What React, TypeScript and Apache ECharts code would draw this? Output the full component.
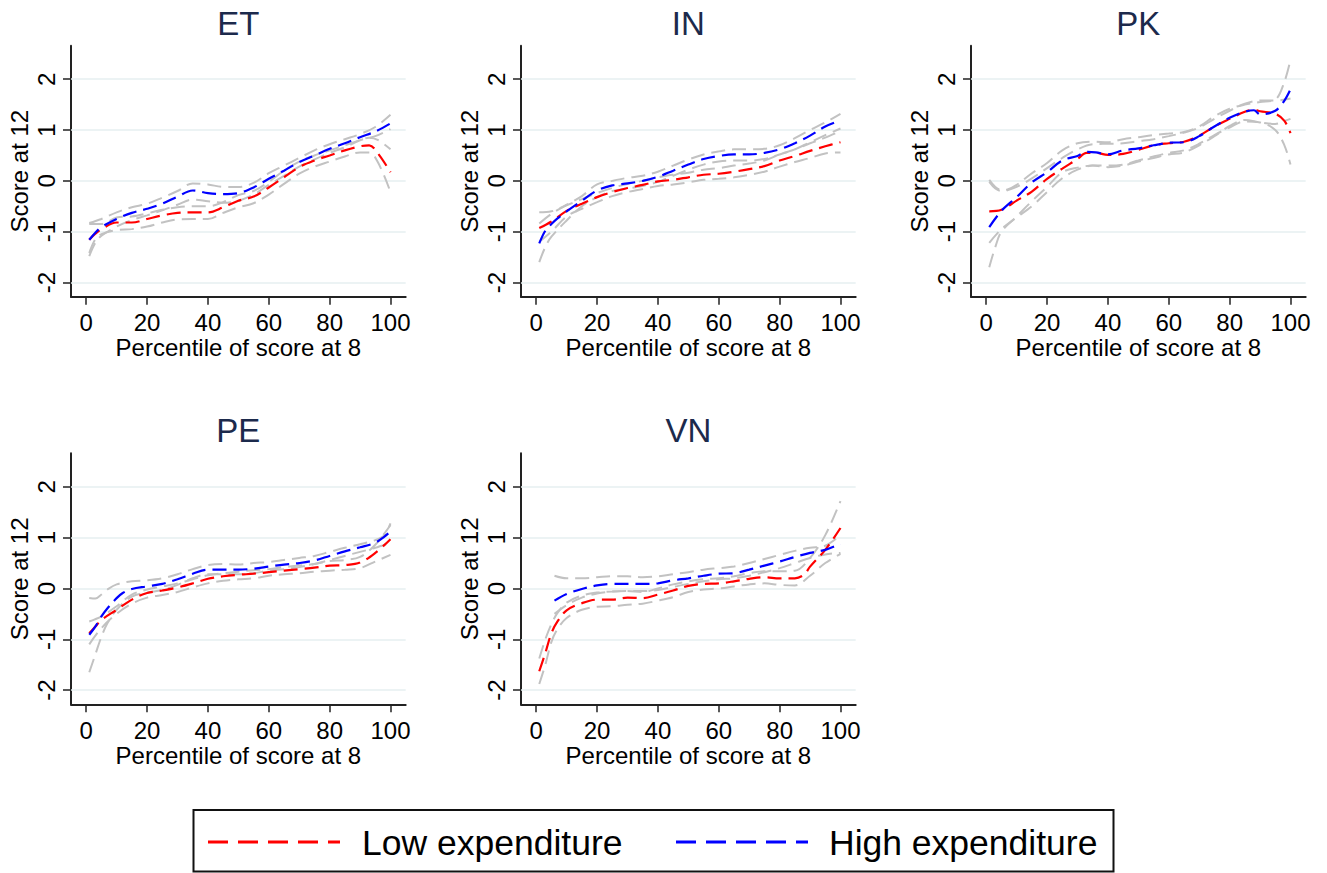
import React, { useEffect, useRef } from "react";
import * as echarts from "echarts";

// ---------- data ----------
const X_TICKS = [0, 20, 40, 60, 80, 100];
const Y_TICKS = [-2, -1, 0, 1, 2];
const PANEL_NAMES = ["ET", "IN", "PK", "PE", "VN"];
const SERIES_NAMES = ["Low expenditure", "High expenditure"];
const X_TITLE = "Percentile of score at 8";
const Y_TITLE = "Score at 12";

const ET_LOW = [[1,-1.16],[3,-1.04],[5,-0.95],[10,-0.82],[15,-0.82],[20,-0.75],[25,-0.68],[30,-0.63],[35,-0.62],[40,-0.62],[45,-0.52],[50,-0.39],[55,-0.31],[60,-0.13],[65,0.07],[70,0.27],[75,0.4],[80,0.5],[85,0.6],[90,0.68],[93,0.7],[96,0.53],[100,0.17]];
const ET_HIGH = [[1,-1.16],[3,-1.02],[5,-0.91],[10,-0.75],[15,-0.63],[20,-0.55],[25,-0.45],[30,-0.31],[35,-0.19],[40,-0.24],[45,-0.26],[50,-0.24],[55,-0.13],[60,0.04],[65,0.2],[70,0.37],[75,0.5],[80,0.63],[85,0.74],[90,0.86],[95,0.97],[100,1.13]];
const ET_HIGH_UP = [[1,-0.83],[5,-0.75],[10,-0.62],[15,-0.52],[20,-0.45],[25,-0.33],[30,-0.2],[35,-0.05],[40,-0.07],[45,-0.12],[50,-0.12],[55,-0.04],[60,0.15],[65,0.3],[70,0.45],[75,0.6],[80,0.72],[85,0.82],[90,0.92],[95,1.06],[100,1.3]];
const ET_HIGH_LO = [[1,-1.48],[3,-1.22],[5,-1.08],[10,-0.9],[15,-0.77],[20,-0.68],[25,-0.58],[30,-0.47],[35,-0.37],[40,-0.4],[45,-0.43],[50,-0.39],[55,-0.27],[60,-0.08],[65,0.1],[70,0.28],[75,0.42],[80,0.55],[85,0.66],[90,0.8],[95,0.88],[100,1.02]];
const ET_LOW_UP = [[1,-0.85],[5,-0.85],[10,-0.72],[15,-0.7],[20,-0.64],[25,-0.57],[30,-0.52],[35,-0.5],[40,-0.5],[45,-0.42],[50,-0.28],[55,-0.2],[60,-0.02],[65,0.2],[70,0.38],[75,0.5],[80,0.6],[85,0.7],[90,0.8],[93,0.85],[96,0.8],[100,0.62]];
const ET_LOW_LO = [[1,-1.42],[3,-1.15],[5,-1.05],[10,-0.97],[15,-0.95],[20,-0.9],[25,-0.82],[30,-0.76],[35,-0.75],[40,-0.75],[45,-0.63],[50,-0.52],[55,-0.44],[60,-0.27],[65,-0.06],[70,0.14],[75,0.28],[80,0.38],[85,0.48],[90,0.56],[93,0.56],[96,0.35],[100,-0.22]];

const IN_LOW = [[1,-0.93],[5,-0.8],[10,-0.59],[15,-0.45],[20,-0.32],[25,-0.22],[30,-0.14],[35,-0.08],[40,-0.01],[45,0.02],[50,0.07],[55,0.12],[60,0.14],[65,0.18],[70,0.23],[75,0.29],[80,0.4],[85,0.49],[90,0.59],[95,0.68],[100,0.76]];
const IN_HIGH = [[1,-1.23],[3,-0.98],[5,-0.85],[7,-0.74],[10,-0.6],[15,-0.39],[20,-0.19],[25,-0.09],[30,-0.05],[35,0],[40,0.08],[45,0.2],[50,0.32],[55,0.43],[60,0.49],[65,0.52],[70,0.52],[75,0.55],[80,0.62],[85,0.74],[90,0.89],[95,1.07],[100,1.19]];
const IN_HIGH_UP = [[1,-0.84],[5,-0.65],[10,-0.47],[15,-0.3],[20,-0.07],[25,0],[30,0.06],[35,0.1],[40,0.18],[45,0.3],[50,0.42],[55,0.52],[60,0.58],[65,0.62],[70,0.62],[75,0.63],[80,0.7],[85,0.84],[90,1.0],[95,1.15],[100,1.32]];
const IN_HIGH_LO = [[1,-1.6],[3,-1.3],[5,-1.1],[10,-0.78],[15,-0.5],[20,-0.32],[25,-0.2],[30,-0.15],[35,-0.1],[40,-0.02],[45,0.1],[50,0.22],[55,0.32],[60,0.38],[65,0.4],[70,0.4],[75,0.43],[80,0.52],[85,0.62],[90,0.76],[95,0.9],[100,1.03]];
const IN_LOW_UP = [[1,-0.62],[5,-0.6],[10,-0.48],[15,-0.36],[20,-0.24],[25,-0.14],[30,-0.06],[35,0],[40,0.07],[45,0.12],[50,0.16],[55,0.22],[60,0.25],[65,0.3],[70,0.34],[75,0.4],[80,0.52],[85,0.62],[90,0.74],[95,0.85],[100,0.98]];
const IN_LOW_LO = [[1,-1.2],[5,-1.0],[10,-0.7],[15,-0.55],[20,-0.42],[25,-0.3],[30,-0.22],[35,-0.16],[40,-0.1],[45,-0.07],[50,-0.03],[55,0.02],[60,0.04],[65,0.07],[70,0.12],[75,0.18],[80,0.28],[85,0.37],[90,0.45],[95,0.54],[100,0.56]];

const PK_LOW = [[1,-0.6],[5,-0.57],[10,-0.39],[15,-0.21],[20,0.04],[25,0.24],[30,0.43],[33,0.55],[36,0.55],[40,0.51],[45,0.53],[50,0.61],[55,0.7],[60,0.74],[65,0.77],[70,0.89],[75,1.07],[80,1.22],[85,1.36],[88,1.4],[90,1.37],[95,1.32],[98,1.18],[100,0.94]];
const PK_HIGH = [[1,-0.91],[5,-0.59],[10,-0.32],[15,-0.03],[20,0.17],[25,0.4],[30,0.49],[33,0.57],[36,0.56],[40,0.52],[45,0.6],[50,0.64],[55,0.7],[60,0.75],[65,0.76],[70,0.88],[75,1.07],[80,1.24],[85,1.36],[88,1.39],[90,1.31],[95,1.38],[98,1.58],[100,1.8]];
const PK_HIGH_UP = [[1,0.02],[3,-0.12],[5,-0.18],[7,-0.17],[10,-0.08],[15,0.15],[20,0.35],[25,0.6],[30,0.74],[35,0.77],[40,0.76],[45,0.82],[50,0.86],[55,0.9],[60,0.93],[65,0.96],[70,1.07],[75,1.27],[80,1.42],[85,1.5],[90,1.55],[95,1.6],[98,1.95],[100,2.38]];
const PK_HIGH_LO = [[1,-1.7],[3,-1.3],[5,-1.0],[10,-0.7],[15,-0.4],[20,-0.12],[25,0.17],[30,0.26],[35,0.3],[40,0.27],[45,0.3],[50,0.38],[55,0.45],[60,0.52],[65,0.56],[70,0.7],[75,0.88],[80,1.08],[85,1.2],[90,1.15],[95,1.12],[98,1.18],[100,1.22]];
const PK_LOW_UP = [[1,-0.02],[3,-0.15],[5,-0.2],[10,-0.12],[15,0.05],[20,0.25],[25,0.45],[30,0.62],[35,0.72],[40,0.73],[45,0.74],[50,0.78],[55,0.82],[60,0.88],[65,0.95],[70,1.05],[75,1.22],[80,1.38],[85,1.52],[90,1.58],[95,1.58],[100,1.62]];
const PK_LOW_LO = [[1,-1.22],[5,-0.95],[10,-0.72],[15,-0.5],[20,-0.22],[25,0.05],[30,0.22],[35,0.3],[40,0.3],[45,0.32],[50,0.4],[55,0.48],[60,0.55],[65,0.6],[70,0.73],[75,0.9],[80,1.05],[85,1.17],[90,1.15],[95,1.0],[98,0.7],[100,0.32]];

const PE_LOW = [[1,-0.88],[3,-0.75],[5,-0.62],[10,-0.42],[15,-0.22],[20,-0.09],[25,-0.04],[30,0.02],[35,0.1],[40,0.19],[45,0.24],[50,0.27],[55,0.29],[60,0.32],[65,0.35],[70,0.38],[75,0.41],[80,0.45],[85,0.46],[90,0.51],[95,0.7],[100,0.97]];
const PE_HIGH = [[1,-0.91],[3,-0.75],[5,-0.55],[7,-0.39],[10,-0.19],[12,-0.09],[15,-0.01],[20,0.04],[25,0.09],[30,0.18],[35,0.29],[40,0.37],[45,0.37],[50,0.37],[55,0.39],[60,0.43],[65,0.47],[70,0.5],[75,0.55],[80,0.64],[85,0.73],[90,0.81],[95,0.9],[98,1.02],[100,1.12]];
const PE_HIGH_UP = [[1,-0.19],[3,-0.2],[5,-0.12],[7,-0.02],[10,0.08],[15,0.14],[20,0.16],[25,0.2],[30,0.28],[35,0.38],[40,0.46],[45,0.48],[50,0.47],[55,0.5],[60,0.52],[65,0.56],[70,0.6],[75,0.64],[80,0.72],[85,0.8],[90,0.87],[95,0.95],[98,1.05],[100,1.28]];
const PE_HIGH_LO = [[1,-1.65],[3,-1.3],[5,-0.95],[7,-0.68],[10,-0.42],[15,-0.16],[20,-0.08],[25,-0.03],[30,0.07],[35,0.2],[40,0.28],[45,0.28],[50,0.28],[55,0.3],[60,0.35],[65,0.38],[70,0.42],[75,0.48],[80,0.56],[85,0.64],[90,0.72],[95,0.8],[100,0.9]];
const PE_LOW_UP = [[1,-0.65],[5,-0.55],[10,-0.35],[15,-0.12],[20,-0.02],[25,0.04],[30,0.1],[35,0.18],[40,0.26],[45,0.3],[50,0.33],[55,0.36],[60,0.38],[65,0.42],[70,0.45],[75,0.48],[80,0.54],[85,0.56],[90,0.62],[95,0.86],[100,1.25]];
const PE_LOW_LO = [[1,-1.1],[5,-0.78],[10,-0.5],[15,-0.3],[20,-0.18],[25,-0.13],[30,-0.07],[35,0.02],[40,0.1],[45,0.15],[50,0.18],[55,0.2],[60,0.25],[65,0.28],[70,0.3],[75,0.33],[80,0.35],[85,0.37],[90,0.4],[95,0.53],[100,0.66]];

const VN_LOW = [[1,-1.63],[3,-1.27],[5,-0.88],[7,-0.65],[10,-0.43],[15,-0.29],[20,-0.22],[25,-0.22],[30,-0.18],[35,-0.19],[40,-0.12],[45,-0.04],[50,0.05],[55,0.09],[60,0.1],[65,0.14],[70,0.19],[75,0.22],[80,0.2],[85,0.2],[88,0.27],[90,0.43],[95,0.76],[100,1.19]];
const VN_HIGH = [[6,-0.24],[10,-0.11],[15,-0.01],[20,0.06],[25,0.09],[30,0.09],[35,0.09],[40,0.1],[45,0.16],[50,0.2],[55,0.25],[60,0.29],[65,0.3],[70,0.37],[75,0.45],[80,0.53],[85,0.62],[90,0.7],[95,0.76],[100,0.88]];
const VN_HIGH_UP = [[6,0.25],[10,0.2],[15,0.2],[20,0.22],[25,0.24],[30,0.24],[35,0.22],[40,0.24],[45,0.28],[50,0.32],[55,0.37],[60,0.4],[65,0.43],[70,0.5],[75,0.58],[80,0.66],[85,0.74],[90,0.8],[95,0.84],[100,1.05]];
const VN_HIGH_LO = [[6,-0.5],[10,-0.33],[15,-0.18],[20,-0.1],[25,-0.06],[30,-0.05],[35,-0.05],[40,-0.03],[45,0.03],[50,0.09],[55,0.14],[60,0.18],[65,0.2],[70,0.25],[75,0.32],[80,0.4],[85,0.5],[90,0.6],[95,0.67],[100,0.7]];
const VN_LOW_UP = [[1,-1.38],[3,-1.0],[5,-0.7],[7,-0.48],[10,-0.28],[15,-0.14],[20,-0.08],[25,-0.06],[30,-0.05],[35,-0.07],[40,0],[45,0.08],[50,0.14],[55,0.18],[60,0.2],[65,0.24],[70,0.3],[75,0.34],[80,0.34],[85,0.35],[90,0.6],[95,1.05],[100,1.72]];
const VN_LOW_LO = [[1,-1.88],[3,-1.5],[5,-1.05],[7,-0.8],[10,-0.58],[15,-0.42],[20,-0.36],[25,-0.35],[30,-0.32],[35,-0.3],[40,-0.24],[45,-0.17],[50,-0.07],[55,-0.02],[60,0],[65,0.04],[70,0.08],[75,0.1],[80,0.07],[85,0.06],[90,0.25],[95,0.5],[100,0.68]];

const LOWS = [ET_LOW, IN_LOW, PK_LOW, PE_LOW, VN_LOW];
const HIGHS = [ET_HIGH, IN_HIGH, PK_HIGH, PE_HIGH, VN_HIGH];
const BANDS = [
  [ET_HIGH_UP, ET_HIGH_LO, ET_LOW_UP, ET_LOW_LO],
  [IN_HIGH_UP, IN_HIGH_LO, IN_LOW_UP, IN_LOW_LO],
  [PK_HIGH_UP, PK_HIGH_LO, PK_LOW_UP, PK_LOW_LO],
  [PE_HIGH_UP, PE_HIGH_LO, PE_LOW_UP, PE_LOW_LO],
  [VN_HIGH_UP, VN_HIGH_LO, VN_LOW_UP, VN_LOW_LO],
];

// ---------- layout / style ----------
const FONT = "'Liberation Sans', Arial, sans-serif";
const LEFTS = [71, 521, 971, 71, 521];
const TOPS = [45.7, 45.7, 45.7, 453.3, 453.3];
const PW = 334.7;
const PH = 251;
const AXIS_COLOR = "#222222";
const RED = "#ff0000";
const BLUE = "#0000ff";
const GRAY = "#c2c2c2";
const GRID_COLOR = "#e6eff1";
const DASH = [14, 7];
const AXIS_FONT = 24;

function buildOption() {
  const grid: any[] = [];
  const xAxis: any[] = [];
  const yAxis: any[] = [];
  const series: any[] = [];
  const graphic: any[] = [];

  PANEL_NAMES.forEach((name, i) => {
    grid.push({ left: LEFTS[i], top: TOPS[i], width: PW, height: PH, containLabel: false });
    xAxis.push({
      gridIndex: i, type: "value", min: -5, max: 105,
      axisLine: { show: true, onZero: false, lineStyle: { color: AXIS_COLOR, width: 2 } },
      axisTick: { show: true, customValues: X_TICKS, length: 8, lineStyle: { color: AXIS_COLOR, width: 1.5 } },
      axisLabel: { customValues: X_TICKS, margin: 14, fontSize: AXIS_FONT, color: "#000", fontFamily: FONT },
      splitLine: { show: false },
      name: X_TITLE, nameLocation: "middle", nameGap: 39,
      nameTextStyle: { fontSize: AXIS_FONT, color: "#000", fontFamily: FONT },
    });
    yAxis.push({
      gridIndex: i, type: "value", min: -2.28, max: 2.66,
      axisLine: { show: true, onZero: false, lineStyle: { color: AXIS_COLOR, width: 2 } },
      axisTick: { show: true, customValues: Y_TICKS, length: 8, lineStyle: { color: AXIS_COLOR, width: 1.5 } },
      axisLabel: { customValues: Y_TICKS, rotate: 90, margin: 13, fontSize: AXIS_FONT, color: "#000", fontFamily: FONT },
      splitLine: { show: false },
      name: Y_TITLE, nameLocation: "middle", nameGap: 40,
      nameTextStyle: { fontSize: AXIS_FONT, color: "#000", fontFamily: FONT },
    });

    BANDS[i].forEach((band, k) => {
      const s: any = {
        type: "line", xAxisIndex: i, yAxisIndex: i, data: band,
        symbol: "none", smooth: 0.35, silent: true, z: 2,
        lineStyle: { color: GRAY, width: 2, type: DASH },
      };
      if (k === 0) {
        s.markLine = {
          silent: true, symbol: ["none", "none"], label: { show: false }, z: 1,
          lineStyle: { color: GRID_COLOR, width: 1.5, type: "solid" },
          data: Y_TICKS.map((v) => ({ yAxis: v })),
        };
      }
      series.push(s);
    });
    series.push({
      type: "line", name: SERIES_NAMES[0], xAxisIndex: i, yAxisIndex: i, data: LOWS[i],
      symbol: "none", smooth: 0.35, silent: true, z: 3,
      lineStyle: { color: RED, width: 2.2, type: DASH },
    });
    series.push({
      type: "line", name: SERIES_NAMES[1], xAxisIndex: i, yAxisIndex: i, data: HIGHS[i],
      symbol: "none", smooth: 0.35, silent: true, z: 4,
      lineStyle: { color: BLUE, width: 2.2, type: DASH },
    });

    graphic.push({
      type: "text", x: LEFTS[i] + PW / 2, y: TOPS[i] - 22.5,
      style: { text: name, fontSize: 33, fontFamily: FONT, fill: "#1c2a4c", align: "center", verticalAlign: "middle" },
    });
  });

  // legend box
  graphic.push({ type: "rect", shape: { x: 193.5, y: 810, width: 920, height: 61.5 }, style: { fill: "#fff", stroke: "#111", lineWidth: 2 } });
  graphic.push({ type: "line", shape: { x1: 208, y1: 842, x2: 340, y2: 842 }, style: { stroke: RED, lineWidth: 3, lineDash: [20, 10] } });
  graphic.push({ type: "text", x: 362, y: 843, style: { text: SERIES_NAMES[0], fontSize: 35.5, fontFamily: FONT, fill: "#000", align: "left", verticalAlign: "middle" } });
  graphic.push({ type: "line", shape: { x1: 676, y1: 842, x2: 808, y2: 842 }, style: { stroke: BLUE, lineWidth: 3, lineDash: [20, 10] } });
  graphic.push({ type: "text", x: 829, y: 843, style: { text: SERIES_NAMES[1], fontSize: 35.5, fontFamily: FONT, fill: "#000", align: "left", verticalAlign: "middle" } });

  return {
    animation: false,
    backgroundColor: "#ffffff",
    grid, xAxis, yAxis, series, graphic,
  };
}

export default function App() {
  const ref = useRef<HTMLDivElement>(null);
  useEffect(() => {
    document.body.style.margin = "0";
    const chart = echarts.init(ref.current!, null, { renderer: "svg" });
    chart.setOption(buildOption() as any);
    return () => chart.dispose();
  }, []);
  return <div ref={ref} style={{ width: 1327, height: 873, background: "#fff" }} />;
}
